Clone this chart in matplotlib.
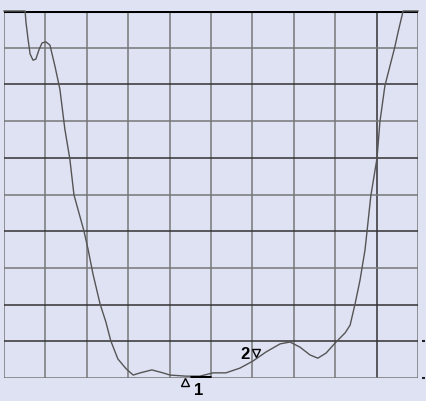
import matplotlib
matplotlib.use('Agg')
import matplotlib.pyplot as plt

plt.rcParams['font.family'] = ['Liberation Sans', 'DejaVu Sans']

# trace, in grid divisions (x: 0..10, y: 0 bottom .. 10 top)
trace_x = [0.0, 0.51, 0.53, 0.58, 0.63, 0.70, 0.77, 0.85, 0.92, 1.01, 1.11, 1.23,
           1.35, 1.47, 1.59, 1.69, 1.93, 2.03, 2.15, 2.32, 2.46, 2.58, 2.75, 2.95,
           3.12, 3.29, 3.57, 3.84, 4.01, 4.40, 4.73, 5.05, 5.36, 5.70, 6.01, 6.33,
           6.67, 6.91, 7.15, 7.39, 7.58, 7.78, 8.02, 8.24, 8.36, 8.48, 8.60, 8.72,
           8.77, 8.86, 9.01, 9.08, 9.20, 9.44, 9.52, 9.64, 10.0]
trace_y = [10.0, 10.0, 9.70, 9.24, 8.83, 8.66, 8.69, 8.96, 9.13, 9.16, 9.07, 8.50,
           7.87, 6.78, 5.97, 4.99, 4.01, 3.51, 2.83, 2.02, 1.53, 1.01, 0.52, 0.25,
           0.08, 0.14, 0.22, 0.14, 0.08, 0.05, 0.05, 0.14, 0.14, 0.27, 0.46, 0.71,
           0.93, 0.98, 0.84, 0.63, 0.54, 0.68, 0.98, 1.23, 1.44, 2.02, 2.67, 3.49,
           4.01, 4.96, 5.99, 6.98, 7.96, 9.02, 9.43, 10.0, 10.0]

marker_labels = ['1', '2']
marker_x = [4.37, 6.09]
marker_y = [-0.1, 0.68]

n_div = 10
dark_h = [1, 2, 4, 6, 8]
dark_v = [9]

bg = '#dfe2f3'
fig = plt.figure(figsize=(4.26, 4.02), dpi=100, facecolor=bg)
ax = fig.add_axes([4/426, 1 - 379/402, 414/426, 367/402])
ax.set_facecolor(bg)
ax.set_xlim(0, n_div)
ax.set_ylim(0, n_div)

for i in range(n_div + 1):
    c = '#333333' if i in dark_v else '#777777'
    ax.axvline(i, color=c, lw=1.1, zorder=1)
for j in range(n_div + 1):
    c = '#333333' if j in dark_h else '#777777'
    ax.axhline(j, color=c, lw=1.1, zorder=1)
ax.axhline(n_div, color='black', lw=2.2, zorder=2)

for s in ax.spines.values():
    s.set_visible(False)
ax.set_xticks([])
ax.set_yticks([])

ax.plot(trace_x, trace_y, color='#555555', lw=1.0, zorder=3, clip_on=False)

# marker 1 (delta marker below the trace)
ax.plot(marker_x[0], marker_y[0], marker='^', ms=6, mfc='none', mec='black',
        mew=1.0, clip_on=False, zorder=4)
ax.text(marker_x[0] + 0.32, marker_y[0] - 0.22, marker_labels[0], fontsize=12,
        fontweight='bold', ha='center', va='center')
ax.plot([4.49, 5.0], [0.03, 0.03], color='black', lw=2.2, zorder=4,
        solid_capstyle='butt')

# marker 2
ax.plot(marker_x[1], marker_y[1], marker='v', ms=6, mfc='none', mec='black',
        mew=1.0, zorder=4)
ax.text(marker_x[1] - 0.27, marker_y[1], marker_labels[1], fontsize=12,
        fontweight='bold', ha='center', va='center')

# reference ticks on the right edge
for ry in [1.0, 0.0]:
    ax.plot([10.09, 10.16], [ry, ry], color='#222222', lw=1.5, clip_on=False,
            solid_capstyle='butt')

fig.savefig('out.png', dpi=100, facecolor=bg)
